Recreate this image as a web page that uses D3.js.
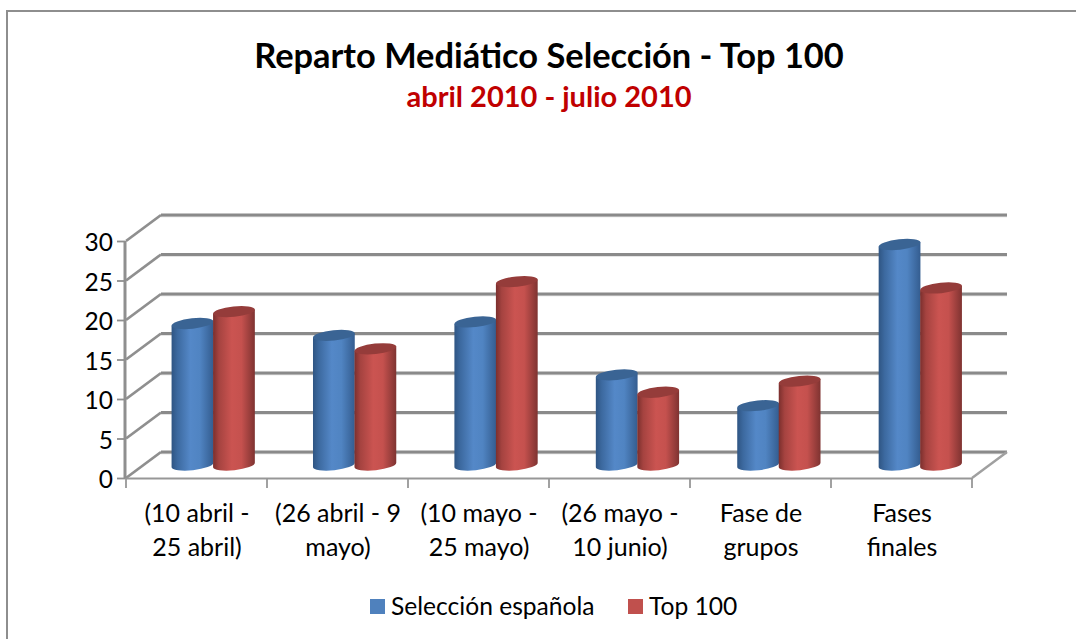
<!DOCTYPE html>
<html>
<head>
<meta charset="utf-8">
<script src="https://cdnjs.cloudflare.com/ajax/libs/d3/7.8.5/d3.min.js"></script>
<style>
html, body { margin: 0; padding: 0; background: #fff; }
text { font-family: Lato, "Open Sans", sans-serif; fill: #000; }
</style>
</head>
<body>
<div id="chart"></div>
<script>
const categories = [
    ["(10 abril -", "25 abril)"],
    ["(26 abril - 9", "mayo)"],
    ["(10 mayo -", "25 mayo)"],
    ["(26 mayo -", "10 junio)"],
    ["Fase de", "grupos"],
    ["Fases", "finales"]
];
const seleccion = [18.1, 16.6, 18.3, 11.6, 7.7, 28.1];
const top100 = [19.6, 14.9, 23.4, 9.4, 10.8, 22.6];
const yTicks = [0, 5, 10, 15, 20, 25, 30];
const seriesNames = ["Selección española", "Top 100"];

let width = 1076;
let height = 639;

// floor of the 3d box
let depthX = 35;
let depthY = -26;

let svg = d3.select("#chart")
            .append("svg")
            .attr("width", width)
            .attr("height", height)
            .style("display", "block")

// the frame only shows on the top and left
svg.append("path")
    .attr("d", `M7,${height}V11H${width}`)
    .attr("fill", "none")
    .attr("stroke", "#8e8e8e")
    .attr("stroke-width", 2)

let defs = svg.append("defs")

function addGradient(id, stops){
    let grad = defs.append("linearGradient").attr("id", id)
    stops.forEach(function(s){
        grad.append("stop").attr("offset", s[0]).attr("stop-color", s[1])
    })
}

addGradient("blueBody", [[0, "#2f5583"], [0.14, "#3c699f"], [0.45, "#5488c8"], [0.68, "#5084c2"], [1, "#345d90"]])
addGradient("redBody", [[0, "#7b2f2d"], [0.14, "#a54340"], [0.45, "#cb5451"], [0.68, "#c5514e"], [1, "#7f3331"]])

let xScale = d3.scaleBand()
                .domain(d3.range(categories.length))
                .range([126, 972])

// bars are spaced a touch wider than the ticks
let barScale = d3.scaleBand()
                .domain(d3.range(categories.length))
                .range([125, 973.5])

let yScale = d3.scaleLinear()
                .domain([0, 30])
                .range([478, 241])

let inner = d3.scaleBand()
                .domain([0, 1])
                .range([0, 83])

let grid = svg.append("g")

// back wall and side wall lines
yTicks.forEach(function(t){
    let y = yScale(t)
    grid.append("line")
        .attr("x1", 126 + depthX).attr("x2", 972 + depthX)
        .attr("y1", y + depthY + 1.6).attr("y2", y + depthY + 1.6)
        .attr("stroke", "#dcdcdc").attr("stroke-width", 1.5)
    grid.append("line")
        .attr("x1", 126 + depthX).attr("x2", 972 + depthX)
        .attr("y1", y + depthY).attr("y2", y + depthY)
        .attr("stroke", "#8a8a8a").attr("stroke-width", 3)
    grid.append("line")
        .attr("x1", 126).attr("x2", 126 + depthX)
        .attr("y1", y).attr("y2", y + depthY)
        .attr("stroke", "#8f8f8f").attr("stroke-width", 2.8)
})

// floor, front edge
grid.append("path")
    .attr("d", `M972,478L${972 + depthX},${478 + depthY}`)
    .attr("fill", "none").attr("stroke", "#a0a0a0").attr("stroke-width", 2.4)
grid.append("line")
    .attr("x1", 126).attr("x2", 972).attr("y1", 478.5).attr("y2", 478.5)
    .attr("stroke", "#979797").attr("stroke-width", 2.2)
grid.append("line")
    .attr("x1", 125).attr("x2", 125).attr("y1", yScale(30)).attr("y2", 479)
    .attr("stroke", "#8f8f8f").attr("stroke-width", 3)

// axes
let yAxis = d3.axisLeft(yScale).tickValues(yTicks).tickSize(8).tickPadding(4)
let yG = svg.append("g").attr("transform", "translate(125,0)").call(yAxis)
yG.select(".domain").remove()
yG.selectAll("line").attr("stroke", "#8f8f8f").attr("stroke-width", 1.8)
yG.selectAll("text").attr("font-size", 24.5).attr("font-family", "Lato").attr("dy", "0.4em")

d3.range(categories.length + 1).forEach(function(i){
    let x = i === categories.length ? 972 : xScale(i)
    svg.append("line")
        .attr("x1", x).attr("x2", x).attr("y1", 478).attr("y2", 488)
        .attr("stroke", "#979797").attr("stroke-width", 1.8)
})

let labels = svg.append("g")
categories.forEach(function(c, i){
    let cx = xScale(i) + xScale.bandwidth() / 2 + 0.5
    c.forEach(function(line, j){
        labels.append("text")
            .attr("x", cx)
            .attr("y", 522 + j * 34)
            .attr("text-anchor", "middle")
            .attr("font-size", 25)
            .text(line)
    })
})

// cylinders sit halfway back in the box
let baseY = 465
let rx = 21
let ry = 5.2
function drawBar(g, cx, value, body, cap){
    let top = yScale(value) + depthY / 2 + 1.5
    let tilt = -6
    let dx = rx * Math.cos(tilt * Math.PI / 180)
    let dy = rx * Math.sin(tilt * Math.PI / 180)
    let d = `M${cx - dx},${top - dy}L${cx - dx},${baseY - dy}`
        + `A${rx},${ry} ${tilt} 0 0 ${cx + dx},${baseY + dy}`
        + `L${cx + dx},${top + dy}Z`
    g.append("path").attr("d", d).attr("fill", `url(#${body})`)
    g.append("ellipse")
        .attr("cx", cx).attr("cy", top)
        .attr("rx", rx).attr("ry", ry)
        .attr("transform", `rotate(${tilt} ${cx} ${top})`)
        .attr("fill", cap)
}

let bars = svg.append("g")
categories.forEach(function(c, i){
    let start = barScale(i) + depthX / 2 + (barScale.bandwidth() - 83) / 2
    drawBar(bars, start + inner(0) + inner.bandwidth() / 2, seleccion[i], "blueBody", "#3a6494")
    drawBar(bars, start + inner(1) + inner.bandwidth() / 2, top100[i], "redBody", "#953c3a")
})

svg.append("text")
    .attr("x", 549).attr("y", 68)
    .attr("text-anchor", "middle")
    .attr("font-size", 34.4)
    .attr("font-weight", 700)
    .text("Reparto Mediático Selección - Top 100")

svg.append("text")
    .attr("x", 549).attr("y", 107)
    .attr("text-anchor", "middle")
    .attr("font-size", 29)
    .attr("font-weight", 700)
    .style("fill", "#c00000")
    .text("abril 2010 - julio 2010")

// legend
let legendX = [370, 628]
let legendColor = ["#4f81bd", "#c0504d"]
seriesNames.forEach(function(name, i){
    svg.append("rect")
        .attr("x", legendX[i]).attr("y", 599)
        .attr("width", 15).attr("height", 15)
        .attr("fill", legendColor[i])
    svg.append("text")
        .attr("x", legendX[i] + 21).attr("y", 615)
        .attr("font-size", 24.6)
        .text(name)
})
</script>
</body>
</html>
